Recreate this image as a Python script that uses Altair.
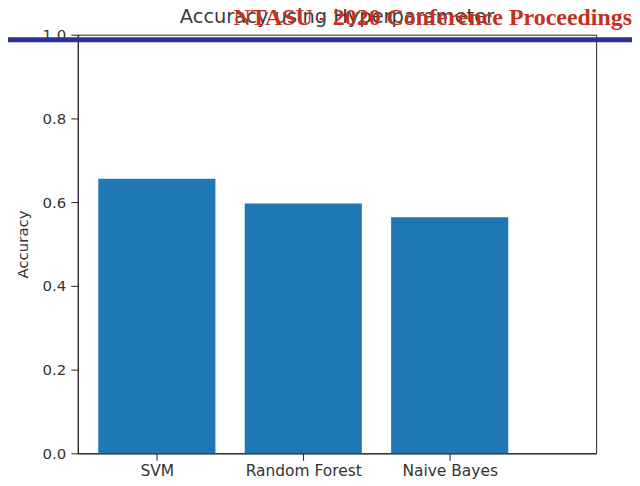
import json
import altair as alt
import pandas as pd

models = ["SVM", "Random Forest", "Naive Bayes"]
accuracy = [0.656, 0.597, 0.564]
y_ticks = [0.0, 0.2, 0.4, 0.6, 0.8, 1.0]
chart_title = "Accuracy using Hyperparameter"
header_text = "NTASU - 2020 Conference Proceedings"

df = pd.DataFrame({"idx": list(range(len(models))), "model": models, "acc": accuracy})

label_expr = json.dumps(models) + "[datum.value]"

base = alt.Chart(df)

bars = base.transform_calculate(
    x0="datum.idx - 0.4", x1="datum.idx + 0.4"
).mark_bar(color="#1f77b4").encode(
    x=alt.X("x0:Q", scale=alt.Scale(domain=[-0.54, 3.0], nice=False, zero=False),
            axis=alt.Axis(values=[0, 1, 2], labelExpr=label_expr, title=None, grid=False,
                          domainColor="#222", tickColor="#222", tickSize=7,
                          labelFont="DejaVu Sans", labelFontSize=15.5, labelColor="#333",
                          labelPadding=3, labelFlush=False)),
    x2="x1:Q",
    y=alt.Y("acc:Q", scale=alt.Scale(domain=[0, 1], nice=False),
            axis=alt.Axis(values=y_ticks, format=".1f", title="Accuracy", grid=False,
                          domainColor="#222", tickColor="#222", tickSize=7,
                          labelFont="DejaVu Sans", labelFontSize=15, labelColor="#333",
                          labelPadding=5, titleFont="DejaVu Sans", titleFontSize=15,
                          titleFontWeight="normal", titleColor="#333", titlePadding=12)),
    y2=alt.datum(0),
)

title_df = pd.DataFrame({"t": [chart_title]})
title_mark = alt.Chart(title_df).mark_text(
    font="DejaVu Sans", fontSize=19.5, color="#3a3a3a", align="center", baseline="alphabetic"
).encode(text="t:N", x=alt.value(260), y=alt.value(-12))

line_df = pd.DataFrame({"v": [1]})
blue_line = alt.Chart(line_df).mark_rule(color="#2d3291", strokeWidth=5).encode(
    x=alt.value(-78), x2=alt.value(556), y=alt.value(5.2)
)

header_df = pd.DataFrame({"t": [header_text]})
header = alt.Chart(header_df).mark_text(
    font="Liberation Serif", fontSize=24, fontWeight="bold", color="#c4311f",
    align="right", baseline="alphabetic"
).encode(text="t:N", x=alt.value(556), y=alt.value(-10))

chart = alt.layer(bars, title_mark, blue_line, header).properties(
    width=520, height=420,
    autosize=alt.AutoSizeParams(type="none"),
    padding={"left": 70, "top": 26, "right": 36, "bottom": 30},
).configure_view(stroke="#222", strokeWidth=1)

chart.save("out.html", embed_options={"renderer": "svg", "actions": False})
